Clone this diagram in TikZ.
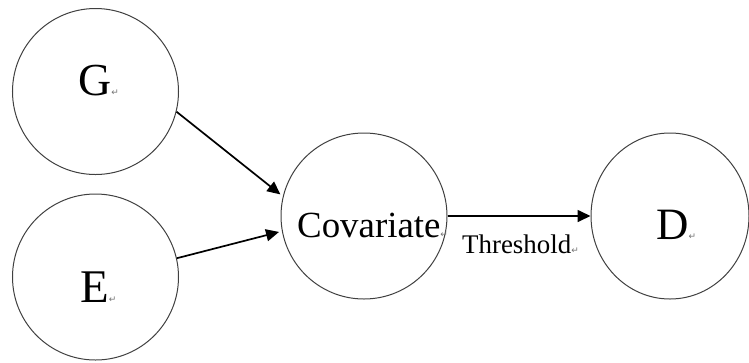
\documentclass[tikz,border=0pt]{standalone}
\usepackage{fontspec}
\setmainfont{Liberation Serif}
\newfontfamily\symfont{DejaVu Sans}
\usetikzlibrary{arrows.meta,shapes.geometric}
\newcommand{\retmark}{{\symfont\fontsize{9}{9}\selectfont\color{black!55}\char"21B5}}
\begin{document}
\begin{tikzpicture}[x=1bp,y=-1bp,
  bubble/.style={draw=black!75,line width=1bp,circle,minimum size=166bp,inner sep=0pt},
  lbl/.style={inner sep=0pt,anchor=base west},
  conn/.style={line width=1.7bp,-{Triangle[length=13bp,width=12bp]}}]
\useasboundingbox (0,0) rectangle (749,362);
% circles
\node[bubble] (G) at (95.5,91.5) {};
\node[bubble] (E) at (95.5,277) {};
\node[bubble] (Cov) at (364,216) {};
\node[draw=black!75,line width=1bp,ellipse,minimum width=158bp,minimum height=166bp,inner sep=0pt] (D) at (670,216) {};
% texts
\node[lbl] (Gt) at (78,95) {\fontsize{46}{46}\selectfont G\retmark};
\node[lbl] (Et) at (80,302) {\fontsize{47}{47}\selectfont E\retmark};
\node[lbl] (Ct) at (297,237) {\fontsize{37}{37}\selectfont Covariate\retmark};
\node[lbl] (Dt) at (656,239) {\fontsize{45}{45}\selectfont D\retmark};
\node[lbl] (thr) at (462,253) {\fontsize{27}{27}\selectfont Threshold\retmark};
% connectors
\draw[conn] (G.-14) -- ([xshift=-3bp]Cov.165);
\draw[conn] (E.13) -- ([xshift=-3bp]Cov.-169);
\draw[conn] (Cov.east) -- (D.west);
\end{tikzpicture}
\end{document}
